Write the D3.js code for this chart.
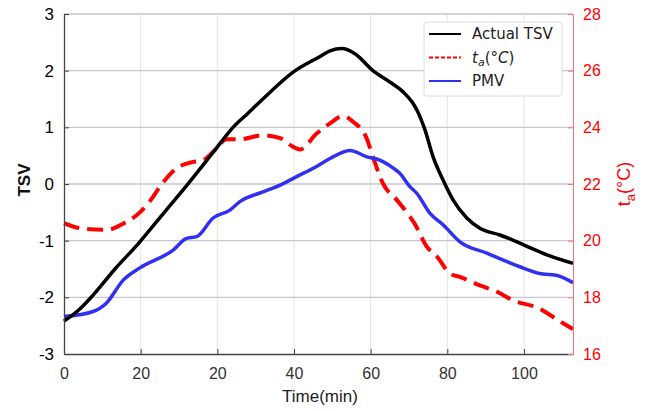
<!DOCTYPE html>
<html>
<head>
<meta charset="utf-8">
<script src="https://cdn.jsdelivr.net/npm/d3@7"></script>
<style>
  body { margin: 0; background: #fff; }
  #chart text { font-family: "Liberation Sans", Arial, sans-serif; }
</style>
</head>
<body>
<div id="chart"></div>
<script>
// Data
const xTicks = [0, 20, 40, 60, 80, 100, 120];
const xTickLabels = ["0", "20", "20", "40", "60", "80", "100"];
const tsvTicks = [-3, -2, -1, 0, 1, 2, 3];
const taTicks = [16, 18, 20, 22, 24, 26, 28];

const tsvTime = [0, 4.2, 7.6, 13.3, 19.8, 22.4, 26.3, 32.1, 39.4, 44.1, 48, 51.9, 59.7, 66.8, 69.4, 72.5, 75.9, 80.6, 85, 88.4, 91, 92.1, 94.2, 96.3, 98.9, 101.5, 105.1, 108.5, 113.7, 117.1, 120.8, 126, 132.8];
const tsvValues = [-2.42, -2.2, -1.96, -1.5, -1.02, -0.81, -0.49, -0.02, 0.6, 1.0, 1.25, 1.5, 1.97, 2.25, 2.35, 2.39, 2.3, 2.0, 1.8, 1.63, 1.43, 1.3, 0.95, 0.48, 0.07, -0.28, -0.6, -0.78, -0.9, -0.99, -1.1, -1.25, -1.4];

const pmvTime = [0, 7.6, 11.1, 15.4, 19.8, 28.4, 32, 34.6, 38.9, 43.3, 45.9, 51.9, 56.4, 60.7, 65.9, 69.4, 74.6, 79, 82.4, 85.9, 87.6, 90.3, 92, 95.5, 98.9, 103.3, 110.3, 118.9, 124.1, 128.4, 132.8];
const pmvValues = [-2.34, -2.25, -2.1, -1.7, -1.48, -1.17, -0.96, -0.93, -0.6, -0.46, -0.31, -0.14, -0.02, 0.13, 0.31, 0.45, 0.59, 0.48, 0.42, 0.28, 0.19, -0.05, -0.16, -0.52, -0.72, -1.02, -1.22, -1.46, -1.58, -1.61, -1.74];

const taTime = [0, 4.2, 11.1, 15.4, 19.8, 23, 25, 29.4, 33.7, 36.3, 39.8, 42.4, 45.9, 51.9, 56.4, 59.7, 61.6, 65.9, 69.4, 72.8, 75.4, 79, 80.6, 83.2, 86.8, 90.3, 91.4, 94.6, 97.3, 100.7, 103.3, 108.5, 112.9, 117.1, 124.1, 129.3, 132.8];
const taValues = [20.62, 20.44, 20.38, 20.6, 21.0, 21.5, 21.9, 22.56, 22.78, 22.84, 23.26, 23.58, 23.58, 23.72, 23.62, 23.32, 23.22, 23.78, 24.14, 24.4, 24.2, 23.6, 22.96, 22.02, 21.44, 20.84, 20.62, 19.8, 19.44, 18.84, 18.72, 18.42, 18.2, 17.9, 17.6, 17.16, 16.88];

// Layout
const W = 649, H = 411;
const margin = { top: 14, right: 76, bottom: 57, left: 64 },
      width = W - margin.left - margin.right,
      height = H - margin.top - margin.bottom;

const svg = d3.select("#chart")
    .append("svg")
    .attr("width", W)
    .attr("height", H);

const g = svg.append("g")
    .attr("transform", `translate(${margin.left},${margin.top})`);

// Scales
const x = d3.scaleLinear().domain([0, 132.8]).range([0, width]);
const yL = d3.scaleLinear().domain([-3, 3]).range([height, 0]);
const yR = d3.scaleLinear().domain([16, 28]).range([height, 0]);

// Grid
g.selectAll(".vgrid").data(xTicks.slice(1))
  .enter().append("line")
    .attr("x1", d => x(d)).attr("x2", d => x(d))
    .attr("y1", 0).attr("y2", height)
    .attr("stroke", "#e4e4e8").attr("stroke-width", 1);

g.selectAll(".hgrid").data(tsvTicks.slice(1))
  .enter().append("line")
    .attr("x1", 0).attr("x2", width)
    .attr("y1", d => yL(d)).attr("y2", d => yL(d))
    .attr("stroke", "#c6c6d0").attr("stroke-width", 1.3);

// Lines
function drawLine(xs, ys, yScale, color, w, dash) {
  const pts = xs.map((t, i) => [t, ys[i]]);
  const line = d3.line()
      .x(d => x(d[0]))
      .y(d => yScale(d[1]))
      .curve(d3.curveMonotoneX);
  g.append("path")
    .datum(pts)
    .attr("d", line)
    .attr("fill", "none")
    .attr("stroke", color)
    .attr("stroke-width", w)
    .attr("stroke-linejoin", "round")
    .attr("stroke-dasharray", dash || null);
}

drawLine(taTime, taValues, yR, "#ff0000", 4, "16,8");
drawLine(pmvTime, pmvValues, yL, "#3030f0", 3.5);
drawLine(tsvTime, tsvValues, yL, "#000000", 3.5);

// Axes
const xAxis = d3.axisBottom(x)
    .tickValues(xTicks)
    .tickFormat((d, i) => xTickLabels[i])
    .tickSizeInner(-5).tickSizeOuter(0).tickPadding(14);
const gx = g.append("g")
    .attr("transform", `translate(0,${height})`)
    .call(xAxis);
gx.select(".domain").attr("stroke", "#444").attr("stroke-width", 1.3);
gx.selectAll(".tick line").attr("stroke", "#444");
gx.selectAll("text").attr("font-size", 16).attr("fill", "#333");

const yAxisL = d3.axisLeft(yL)
    .tickValues(tsvTicks)
    .tickFormat(d => String(d))
    .tickSizeInner(-5).tickSizeOuter(0).tickPadding(10);
const gyl = g.append("g").call(yAxisL);
gyl.select(".domain").attr("stroke", "#444").attr("stroke-width", 1.3);
gyl.selectAll(".tick line").attr("stroke", "#444");
gyl.selectAll("text").attr("font-size", 17).attr("fill", "#000");

const yAxisR = d3.axisRight(yR)
    .tickValues(taTicks)
    .tickSizeInner(-5).tickSizeOuter(0).tickPadding(10);
const gyr = g.append("g")
    .attr("transform", `translate(${width},0)`)
    .call(yAxisR);
gyr.select(".domain").attr("stroke", "#ff7070").attr("stroke-width", 1);
gyr.selectAll(".tick line").attr("stroke", "#ff7070");
gyr.selectAll("text").attr("font-size", 16).attr("fill", "#ff0000");

// Axis titles
svg.append("text")
    .attr("x", 320)
    .attr("y", 402)
    .attr("text-anchor", "middle")
    .attr("font-size", 17)
    .attr("fill", "#222")
    .text("Time(min)");

svg.append("text")
    .attr("transform", `translate(30,${margin.top + height / 2 - 4}) rotate(-90)`)
    .attr("text-anchor", "middle")
    .attr("font-size", 17)
    .attr("font-weight", "bold")
    .attr("fill", "#111")
    .text("TSV");

const rt = svg.append("text")
    .attr("transform", `translate(630,${margin.top + height / 2}) rotate(-90)`)
    .attr("text-anchor", "middle")
    .attr("font-size", 18)
    .attr("fill", "#ff0000");
rt.append("tspan").text("t");
rt.append("tspan").attr("font-size", 13).attr("dy", 5).text("a");
rt.append("tspan").attr("dy", -5).text("(°C)");

// Legend
const legendItems = [
  { label: "Actual TSV", color: "#000000", dash: null },
  { label: "ta", color: "#ff0000", dash: "4,2" },
  { label: "PMV", color: "#3030f0", dash: null }
];
const lg = svg.append("g").attr("transform", "translate(424,22)");
lg.append("rect")
    .attr("width", 138).attr("height", 74)
    .attr("rx", 2)
    .attr("fill", "#fff")
    .attr("stroke", "#dcdcdc");
legendItems.forEach((d, i) => {
  const yy = 12 + i * 23.5;
  lg.append("line")
      .attr("x1", 5).attr("x2", 37)
      .attr("y1", yy).attr("y2", yy)
      .attr("stroke", d.color).attr("stroke-width", 2)
      .attr("stroke-dasharray", d.dash);
  const t = lg.append("text")
      .attr("x", 48).attr("y", yy + 5)
      .attr("font-size", 15)
      .attr("fill", "#222")
      .style("font-family", "'DejaVu Sans', sans-serif");
  if (d.label === "ta") {
    t.append("tspan").attr("font-style", "italic").text("t");
    t.append("tspan").attr("font-style", "italic").attr("font-size", 11).attr("dy", 3).text("a");
    t.append("tspan").attr("dy", -3).text("(°");
    t.append("tspan").attr("font-style", "italic").text("C");
    t.append("tspan").text(")");
  } else {
    t.text(d.label);
  }
});
</script>
</body>
</html>
